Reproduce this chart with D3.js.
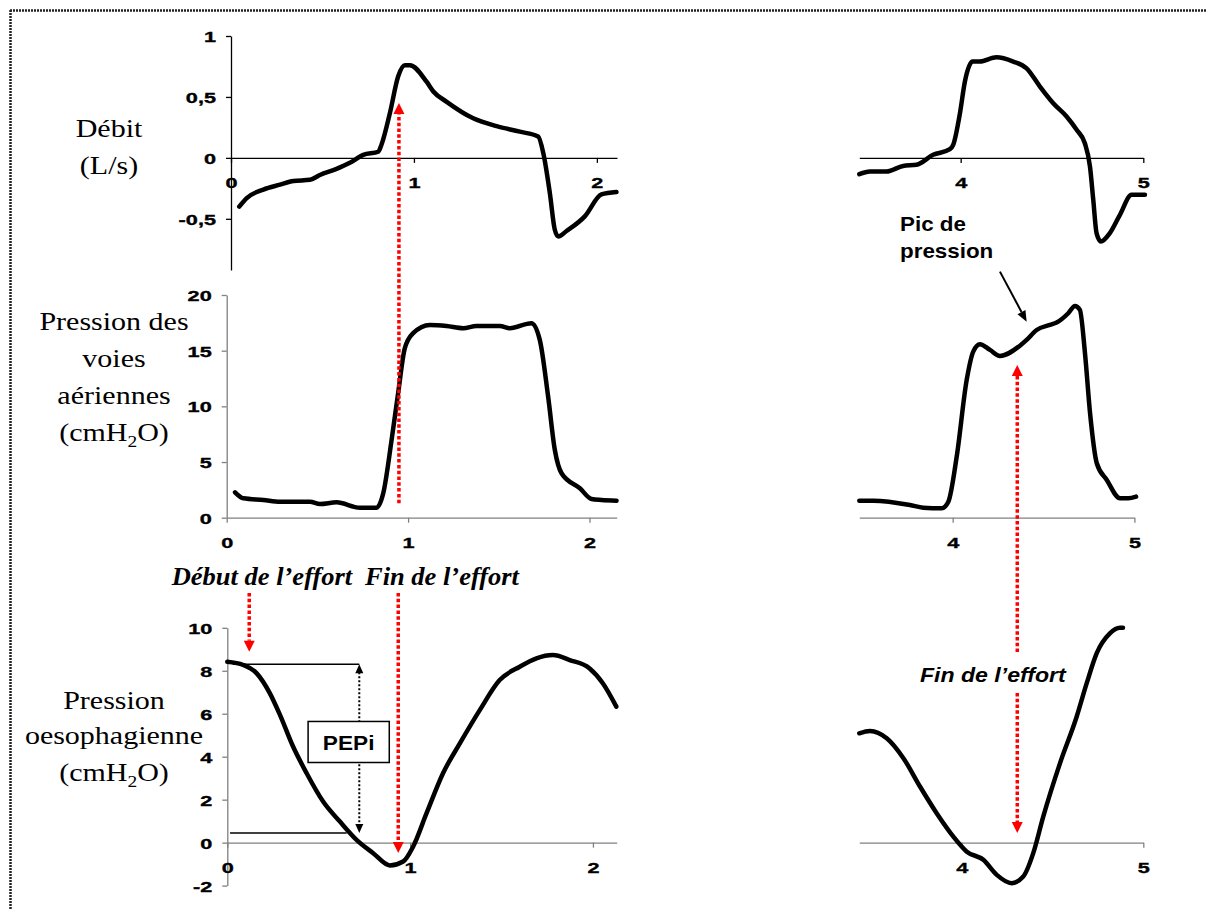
<!DOCTYPE html>
<html><head><meta charset="utf-8">
<script src="https://cdn.jsdelivr.net/npm/d3@7"></script>
<style>html,body{margin:0;padding:0;background:#fff;}svg{display:block;}</style>
</head><body>
<svg id="c" width="1206" height="910"></svg>
<script>
// ---------------- DATA ----------------
const flowLeftTime  = [0.045,0.086,0.177,0.268,0.341,0.432,0.486,0.577,0.650,0.723,0.805,0.823,0.869,0.914,0.951,0.978,1.069,1.106,1.179,1.324,1.452,1.579,1.679,1.707,1.743,1.770,1.789,1.834,1.934,2.025,2.107];
const flowLeftValue = [-0.40,-0.33,-0.26,-0.22,-0.19,-0.18,-0.14,-0.09,-0.04,0.025,0.05,0.11,0.37,0.67,0.76,0.76,0.625,0.545,0.46,0.325,0.26,0.215,0.175,0.04,-0.29,-0.59,-0.645,-0.60,-0.48,-0.30,-0.28];
const flowRightTime  = [3.445,3.503,3.594,3.685,3.758,3.849,3.941,3.959,3.996,4.023,4.065,4.105,4.196,4.288,4.361,4.434,4.507,4.580,4.635,4.680,4.708,4.726,4.744,4.768,4.817,4.872,4.936,5.009];
const flowRightValue = [-0.134,-0.112,-0.112,-0.066,-0.057,0.025,0.071,0.107,0.366,0.625,0.79,0.79,0.825,0.79,0.735,0.585,0.448,0.339,0.23,0.12,-0.071,-0.344,-0.617,-0.686,-0.617,-0.467,-0.303,-0.303];
const pawLeftTime  = [0.046,0.092,0.202,0.294,0.459,0.514,0.606,0.734,0.826,0.863,0.909,0.945,0.982,1.028,1.12,1.212,1.304,1.377,1.506,1.561,1.68,1.726,1.772,1.809,1.846,1.947,2.011,2.066,2.149];
const pawLeftValue = [2.28,1.74,1.59,1.44,1.44,1.23,1.38,0.9,0.9,2.19,6.98,11.18,15.22,16.57,17.31,17.22,17.02,17.22,17.22,17.02,17.47,15.97,10.87,6.08,3.99,2.64,1.68,1.59,1.53];
const pawRightTime  = [3.486,3.563,3.765,3.838,3.939,3.976,4.022,4.077,4.113,4.15,4.205,4.26,4.37,4.407,4.462,4.535,4.572,4.636,4.673,4.7,4.728,4.756,4.793,4.848,4.921,4.967,5.009];
const pawRightValue = [1.53,1.53,1.14,0.9,0.84,1.44,5.48,12.37,14.92,15.58,15.07,14.53,15.45,15.97,16.86,17.31,17.52,18.36,19.02,18.66,14.77,9.38,4.89,3.39,1.74,1.74,1.89];
const pesLeftTime  = [0,0.087,0.161,0.233,0.288,0.361,0.434,0.525,0.616,0.707,0.798,0.889,0.962,1.016,1.09,1.18,1.272,1.381,1.49,1.6,1.691,1.781,1.873,1.982,2.055,2.128];
const pesLeftValue = [8.42,8.27,7.88,6.95,5.95,4.45,3.23,1.9,0.98,0.13,-0.49,-1.06,-0.88,-0.19,1.37,3.23,4.62,6.17,7.57,8.19,8.58,8.73,8.5,8.11,7.41,6.33];
const pesRightTime  = [3.436,3.495,3.587,3.679,3.771,3.862,3.954,4.028,4.119,4.193,4.275,4.339,4.394,4.449,4.541,4.633,4.688,4.743,4.816,4.871,4.888];
const pesRightValue = [5.09,5.2,4.86,3.93,2.6,1.37,0.28,-0.42,-0.8,-1.5,-1.89,-1.58,-0.49,1.21,3.69,5.86,7.41,8.81,9.74,10,10];

const flowTicks = [-0.5,0,0.5,1];      const flowTickLabels = ["-0,5","0","0,5","1"];
const pawTicks  = [0,5,10,15,20];      const pawTickLabels  = ["0","5","10","15","20"];
const pesTicks  = [-2,0,2,4,6,8,10];   const pesTickLabels  = ["-2","0","2","4","6","8","10"];
const timeTicksLeft  = [0,1,2];        const timeTickLabelsLeft  = ["0","1","2"];
const timeTicksRight = [4,5];          const timeTickLabelsRight = ["4","5"];

const rowTitles = [["Débit","(L/s)"],["Pression des","voies","aériennes","(cmH2O)"],["Pression","oesophagienne","(cmH2O)"]];

// ---------------- SETUP ----------------
const svg = d3.select('#c');
svg.append('rect').attr('width',1206).attr('height',910).attr('fill','#fff');

const SANS = "Arial, 'Liberation Sans', Helvetica, sans-serif";
const SERIF = "'Times New Roman', 'Liberation Serif', serif";
const TSX = 1.4; // horizontal stretch of tick labels

// border (dotted, top + left)
svg.append('line').attr('x1',10).attr('y1',10.5).attr('x2',1206).attr('y2',10.5)
  .attr('stroke','#222').attr('stroke-width',2.5).attr('stroke-dasharray','2,1');
svg.append('line').attr('x1',10.5).attr('y1',10).attr('x2',10.5).attr('y2',910)
  .attr('stroke','#222').attr('stroke-width',2.5).attr('stroke-dasharray','2,1');

// scales
const xTL = d3.scaleLinear().domain([0,2.11]).range([231,617]);
const xTR = d3.scaleLinear().domain([3.445,5]).range([859.3,1143.3]);
const yT  = d3.scaleLinear().domain([-0.92,1]).range([270,36]);
const xML = d3.scaleLinear().domain([0,2.15]).range([226.7,616.7]);
const xMR = d3.scaleLinear().domain([3.486,5]).range([859.3,1134.4]);
const yM  = d3.scaleLinear().domain([0,20]).range([517.7,295]);
const xBL = d3.scaleLinear().domain([0,2.13]).range([227.3,616.7]);
const xBR = d3.scaleLinear().domain([3.436,5]).range([859.3,1143.3]);
const yB  = d3.scaleLinear().domain([-2,10]).range([885.6,627.8]);

function styleTickText(sel){
  sel.attr('fill','#000').attr('stroke','#000').attr('stroke-width',0.35).attr('transform',`scale(${TSX},1)`);
}
function yAxis(scale, x, ticks, labels, color){
  const ax = d3.axisLeft(scale).tickValues(ticks).tickFormat((d,i)=>labels[i]).tickSize(5).tickSizeOuter(0);
  const g = svg.append('g').attr('transform',`translate(${x},0)`).call(ax);
  g.attr('font-family',SANS).attr('font-size',15.5).attr('font-weight','bold');
  g.select('.domain').attr('stroke',color).attr('stroke-width',1.3);
  g.selectAll('.tick line').attr('stroke',color).attr('stroke-width',1.3);
  styleTickText(g.selectAll('.tick text').attr('x',-15/TSX).attr('dy','0.36em'));
}
function xAxis(scale, y, ticks, labels, color){
  const ax = d3.axisBottom(scale).tickValues(ticks).tickFormat((d,i)=>labels[i]).tickSize(5).tickSizeOuter(0);
  const g = svg.append('g').attr('transform',`translate(0,${y})`).call(ax);
  g.attr('font-family',SANS).attr('font-size',15.5).attr('font-weight','bold');
  g.select('.domain').attr('stroke',color).attr('stroke-width',1.3);
  g.selectAll('.tick line').attr('stroke',color).attr('stroke-width',1.3);
  styleTickText(g.selectAll('.tick text').attr('y',30).attr('dy',null));
}

// axes
yAxis(yT, xTL(0), flowTicks, flowTickLabels, '#000');
xAxis(xTL, yT(0), timeTicksLeft, timeTickLabelsLeft, '#000');
xAxis(xTR, yT(0), timeTicksRight, timeTickLabelsRight, '#000');
yAxis(yM, xML(0), pawTicks, pawTickLabels, '#808080');
xAxis(xML, yM(0), timeTicksLeft, timeTickLabelsLeft, '#808080');
xAxis(xMR, yM(0), timeTicksRight, timeTickLabelsRight, '#808080');
yAxis(yB, xBL(0), pesTicks, pesTickLabels, '#808080');
xAxis(xBL, yB(0), timeTicksLeft, timeTickLabelsLeft, '#808080');
xAxis(xBR, yB(0), timeTicksRight, timeTickLabelsRight, '#808080');

// curves
function curve(ts, vs, xs, ys){
  const pts = ts.map((t,i)=>[t,vs[i]]);
  const line = d3.line().x(d=>xs(d[0])).y(d=>ys(d[1])).curve(d3.curveMonotoneX);
  svg.append('path').attr('d',line(pts)).attr('fill','none').attr('stroke','#000')
    .attr('stroke-width',4.5).attr('stroke-linejoin','round').attr('stroke-linecap','round');
}
curve(flowLeftTime, flowLeftValue, xTL, yT);
curve(flowRightTime, flowRightValue, xTR, yT);
curve(pawLeftTime, pawLeftValue, xML, yM);
curve(pawRightTime, pawRightValue, xMR, yM);
curve(pesLeftTime, pesLeftValue, xBL, yB);
curve(pesRightTime, pesRightValue, xBR, yB);

// text helper (with horizontal stretch)
function label(x, y, txt, o){
  const g = svg.append('g').attr('transform',`translate(${x},${y}) scale(${o.sx||1},1)`);
  const t = g.append('text').attr('text-anchor',o.anchor||'middle')
    .attr('font-family',o.family||SERIF).attr('font-size',o.size||25)
    .attr('font-weight',o.weight||'normal').attr('font-style',o.style||'normal').attr('fill','#000');
  if (txt.indexOf('H2O')>=0){
    const parts = txt.split('H2O');
    t.append('tspan').text(parts[0]+'H');
    t.append('tspan').attr('font-size',(o.size||25)*0.65).attr('dy',6).text('2');
    t.append('tspan').attr('dy',-6).text('O'+parts[1]);
  } else t.text(txt);
  return t;
}

// row titles
const titleCx = [109,114,114];
const titleBase = [[136.7,174],[330,367,404,441],[709,743.5,780.5]];
rowTitles.forEach((lines,r)=>lines.forEach((s,i)=>label(titleCx[r], titleBase[r][i], s, {sx:1.2,size:25})));

// ---------------- ANNOTATIONS ----------------
function head(x, y, dir, len, hw, color){
  svg.append('path').attr('d',`M${x},${y} L${x-hw},${y-dir*len} L${x+hw},${y-dir*len} Z`).attr('fill',color);
}
function vdots(x, y1, y2, color, w, dash){
  svg.append('line').attr('x1',x).attr('x2',x).attr('y1',y1).attr('y2',y2)
    .attr('stroke',color).attr('stroke-width',w).attr('stroke-dasharray',dash);
}
const RED = '#FF0000', RL = 11, RW = 5.5, RDASH = '3.5,2.3';

// black lines for PEPi
const pepiTop = 8.3, pepiBottom = 0.45, pepiX = 0.722;
svg.append('line').attr('x1',xBL(0.03)).attr('x2',xBL(pepiX)).attr('y1',yB(pepiTop)).attr('y2',yB(pepiTop)).attr('stroke','#000').attr('stroke-width',1.5);
svg.append('line').attr('x1',xBL(0.015)).attr('x2',xBL(0.653)).attr('y1',yB(pepiBottom)).attr('y2',yB(pepiBottom)).attr('stroke','#000').attr('stroke-width',1.5);
vdots(xBL(pepiX), yB(pepiTop)+8, yB(pepiBottom)-8, '#000', 2, '2,2');
head(xBL(pepiX), yB(pepiTop), -1, 9, 4, '#000');
head(xBL(pepiX), yB(pepiBottom), 1, 9, 4, '#000');
svg.append('rect').attr('x',xBL(0.442)).attr('y',yB(5.64)).attr('width',xBL(0.886)-xBL(0.442)).attr('height',yB(3.73)-yB(5.64))
  .attr('fill','#fff').attr('stroke','#000').attr('stroke-width',1.5);
label(xBL(0.664), yB(4.32), 'PEPi', {family:SANS, weight:'bold', size:21, sx:1.08});

// red arrow, left: from airway pressure panel up into flow panel
const effortEndLeft = 0.918;
vdots(xTL(effortEndLeft), yM(1.3), yT(0.45)+RL, RED, 3.5, RDASH);
head(xTL(effortEndLeft), yT(0.45), -1, RL, RW, RED);

// Début / Fin de l'effort (left, oesophageal panel)
const effortStart = 0.12, effortEnd = 0.935;
vdots(xBL(effortStart), yB(11.62), yB(8.89)-RL, RED, 3.5, RDASH);
head(xBL(effortStart), yB(8.89), 1, RL, RW, RED);
vdots(xBL(effortEnd), yB(11.62), yB(-0.48)-RL, RED, 3.5, RDASH);
head(xBL(effortEnd), yB(-0.48), 1, RL, RW, RED);
label(xBL(-0.304), yB(12.0), 'Début de l’effort', {anchor:'start', weight:'bold', style:'italic', size:25, sx:1.06});
label(xBL(0.753), yB(12.0), 'Fin de l’effort', {anchor:'start', weight:'bold', style:'italic', size:25, sx:1.06});

// right double red arrow
const effortEndRight = 4.306;
const rx = xBR(effortEndRight);
vdots(rx, yM(13.72)+RL, yB(8.83), RED, 3.5, RDASH);
vdots(rx, yB(6.97), yB(0.45)-RL, RED, 3.5, RDASH);
head(rx, yM(13.72), -1, RL, RW, RED);
head(rx, yB(0.45), 1, RL, RW, RED);
label(xBR(3.770), yB(7.48), 'Fin de l’effort', {anchor:'start', family:SANS, weight:'bold', style:'italic', size:21, sx:1.1});

// Pic de pression
label(xMR(3.71), yM(25.79), 'Pic de', {anchor:'start', family:SANS, weight:'bold', size:20, sx:1.12});
label(xMR(3.71), yM(23.33), 'pression', {anchor:'start', family:SANS, weight:'bold', size:20, sx:1.12});
(function(){
  const x1 = xMR(4.26), y1 = yM(22.1), x2 = xMR(4.407), y2 = yM(17.6);
  const ang = Math.atan2(y2-y1, x2-x1), L = 11, hw = 4.5;
  const bx = x2 - L*Math.cos(ang), by = y2 - L*Math.sin(ang);
  svg.append('line').attr('x1',x1).attr('y1',y1).attr('x2',bx).attr('y2',by).attr('stroke','#000').attr('stroke-width',2);
  const px = -Math.sin(ang)*hw, py = Math.cos(ang)*hw;
  svg.append('path').attr('d',`M${x2},${y2} L${bx+px},${by+py} L${bx-px},${by-py} Z`).attr('fill','#000');
})();
</script>
</body></html>
